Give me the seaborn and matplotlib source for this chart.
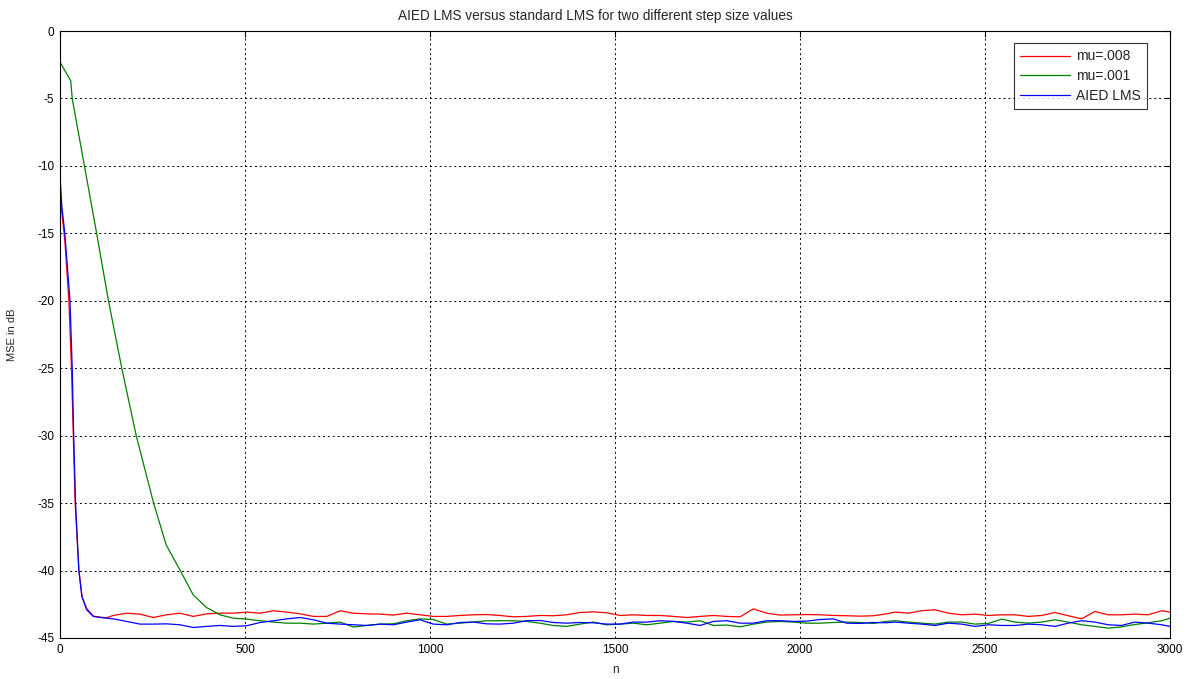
import numpy as np
import pandas as pd
import matplotlib
matplotlib.use("Agg")
import matplotlib.pyplot as plt
import seaborn as sns

# ---------------- data ----------------
TITLE = "AIED LMS versus standard LMS for two different step size values"
SERIES = ["mu=.008", "mu=.001", "AIED LMS"]
COLORS = ["#ff0000", "#008000", "#0000ff"]
X_TICKS = [0, 500, 1000, 1500, 2000, 2500, 3000]
Y_TICKS = [-45, -40, -35, -30, -25, -20, -15, -10, -5, 0]

# common steady-state sample positions
steady_n = [144, 180, 216, 252, 288, 324, 360, 396, 432, 468, 505, 541, 577, 613, 649, 685, 721,
            757, 793, 829, 865, 901, 937, 973, 1009, 1045, 1081, 1117, 1153, 1189, 1225, 1261, 1297,
            1333, 1369, 1405, 1441, 1477,
            1514, 1550, 1586, 1622, 1658, 1694, 1730, 1766, 1802, 1838, 1874, 1910, 1946, 1982, 2018,
            2054, 2090, 2126, 2162, 2198, 2234,
            2257, 2293, 2329, 2365, 2401, 2437, 2473, 2509, 2545, 2581, 2617, 2653, 2689, 2725, 2761,
            2797, 2833, 2869, 2905, 2941, 2978, 3000]

# mu=.008 (red)
red_early_n = [0, 5, 13, 24, 31, 36, 41, 51, 60, 72, 90, 108, 126]
red_early_db = [-11.6, -13.5, -15.5, -20.0, -25.0, -30.0, -35.0, -40.0, -42.0, -42.8, -43.38, -43.45, -43.50]
red_steady_db = [-43.33, -43.16, -43.23, -43.48, -43.28, -43.16, -43.40, -43.21, -43.16, -43.16, -43.08,
                 -43.16, -42.98, -43.08, -43.21, -43.40, -43.40,
                 -42.98, -43.16, -43.21, -43.23, -43.30, -43.16, -43.28, -43.40, -43.40, -43.33, -43.28,
                 -43.26, -43.33, -43.43, -43.40, -43.33, -43.35, -43.28, -43.11, -43.06, -43.13,
                 -43.33, -43.28, -43.33, -43.33, -43.40, -43.48, -43.40, -43.33, -43.40, -43.43, -42.84,
                 -43.16, -43.30, -43.28, -43.26, -43.28, -43.33, -43.35, -43.38, -43.35, -43.21,
                 -43.08, -43.16, -42.98, -42.91, -43.16, -43.28, -43.23, -43.33, -43.28, -43.28, -43.40,
                 -43.33, -43.11, -43.35, -43.58, -43.03, -43.28, -43.28, -43.23, -43.28, -42.98, -43.08]

# mu=.001 (green)
green_early_n = [0, 29, 33, 66, 99, 131, 167, 206, 253, 287, 325, 360, 396, 432, 468]
green_early_db = [-2.3, -3.7, -5.0, -10.0, -15.0, -20.0, -25.0, -30.0, -35.0, -38.1, -40.0, -41.8,
                  -42.74, -43.28, -43.53]
green_tail_n = steady_n[10:]
green_tail_db = [-43.60, -43.72, -43.82, -43.90, -43.90, -43.97, -43.90,
                 -43.82, -44.19, -44.07, -43.97, -43.95, -43.72, -43.58, -43.63, -43.97, -43.90, -43.82,
                 -43.72, -43.72, -43.72, -43.77, -43.90, -44.07, -44.14, -43.97, -43.82, -44.02,
                 -43.97, -43.90, -44.02, -43.90, -43.77, -43.82, -43.72, -44.07, -44.04, -44.17, -43.97,
                 -43.82, -43.77, -43.82, -43.90, -43.90, -43.85, -43.82, -43.85, -43.92, -43.77,
                 -43.72, -43.82, -43.90, -43.97, -43.82, -43.82, -43.97, -43.92, -43.60, -43.82, -43.90,
                 -43.82, -43.65, -43.82, -44.02, -44.14, -44.27, -44.17, -44.00, -43.87, -43.72, -43.53]

# AIED LMS (blue)
blue_early_n = [0, 5, 13, 27, 33, 37, 42, 51, 59, 72, 90, 108, 126]
blue_early_db = [-10.7, -13.0, -15.0, -20.0, -25.0, -30.0, -35.0, -40.0, -41.9, -42.9, -43.40, -43.48, -43.53]
blue_steady_db = [-43.58, -43.77, -43.97, -43.97, -43.95, -44.02, -44.22, -44.14, -44.07, -44.14, -44.09,
                  -43.85, -43.72, -43.58, -43.48, -43.65, -43.90,
                  -43.97, -44.02, -44.07, -43.97, -44.02, -43.82, -43.65, -43.97, -44.02, -43.85, -43.82,
                  -43.95, -43.97, -43.90, -43.72, -43.70, -43.85, -43.90, -43.85, -43.87, -43.97,
                  -43.97, -43.82, -43.82, -43.72, -43.77, -43.90, -44.07, -43.77, -43.72, -43.90, -43.90,
                  -43.72, -43.72, -43.77, -43.75, -43.63, -43.58, -43.90, -43.92, -43.85, -43.87,
                  -43.82, -43.90, -43.97, -44.07, -43.90, -43.97, -44.14, -44.02, -44.07, -44.07, -43.97,
                  -44.02, -44.14, -43.90, -43.72, -43.82, -44.02, -44.07, -43.82, -43.90, -44.02, -44.14]

# ---------------- build long-form table ----------------
frames = [
    pd.DataFrame({"n": red_early_n + steady_n, "mse": red_early_db + red_steady_db, "series": SERIES[0]}),
    pd.DataFrame({"n": green_early_n + green_tail_n, "mse": green_early_db + green_tail_db, "series": SERIES[1]}),
    pd.DataFrame({"n": blue_early_n + steady_n, "mse": blue_early_db + blue_steady_db, "series": SERIES[2]}),
]
df = pd.concat(frames, ignore_index=True)

# ---------------- plot ----------------
sns.set_style("white")
plt.rcParams["font.family"] = ["Liberation Sans", "DejaVu Sans"]
plt.rcParams["font.size"] = 8.5
plt.rcParams["axes.unicode_minus"] = False

fig = plt.figure(figsize=(11.88, 6.79), dpi=100)
ax = fig.add_axes([60 / 1188, 1 - 638 / 679, 1110 / 1188, 607 / 679])

sns.lineplot(data=df, x="n", y="mse", hue="series", hue_order=SERIES,
             palette=dict(zip(SERIES, COLORS)), estimator=None, sort=False,
             linewidth=0.9, ax=ax)

ax.set_xlim(0, 3000)
ax.set_ylim(-45, 0)
ax.set_xticks(X_TICKS)
ax.set_yticks(Y_TICKS)
ax.tick_params(direction="in", length=4, width=0.8, top=True, right=True,
               labelsize=8.5, colors="black", pad=4)
ax.grid(True, color="black", linestyle=(0, (2, 3)), linewidth=0.7)
for s in ax.spines.values():
    s.set_visible(True)
    s.set_color("black")
    s.set_linewidth(0.8)

ax.set_title(TITLE, fontsize=9.8, x=0.482, pad=8)
ax.set_xlabel("n", fontsize=8.5, labelpad=6)
ax.set_ylabel("MSE in dB", fontsize=8)
ax.yaxis.set_label_coords(-(60 - 17) / 1110, 0.5)

leg = ax.legend(loc="upper right", bbox_to_anchor=(0.979, 0.980), frameon=True, fancybox=False,
                edgecolor="black", fontsize=10, handlelength=3.6, borderpad=0.45,
                labelspacing=0.42, handletextpad=0.4, borderaxespad=0)
leg.get_frame().set_linewidth(0.8)
for line in leg.get_lines():
    line.set_linewidth(0.9)

fig.savefig("out.png", dpi=100, facecolor="white")
